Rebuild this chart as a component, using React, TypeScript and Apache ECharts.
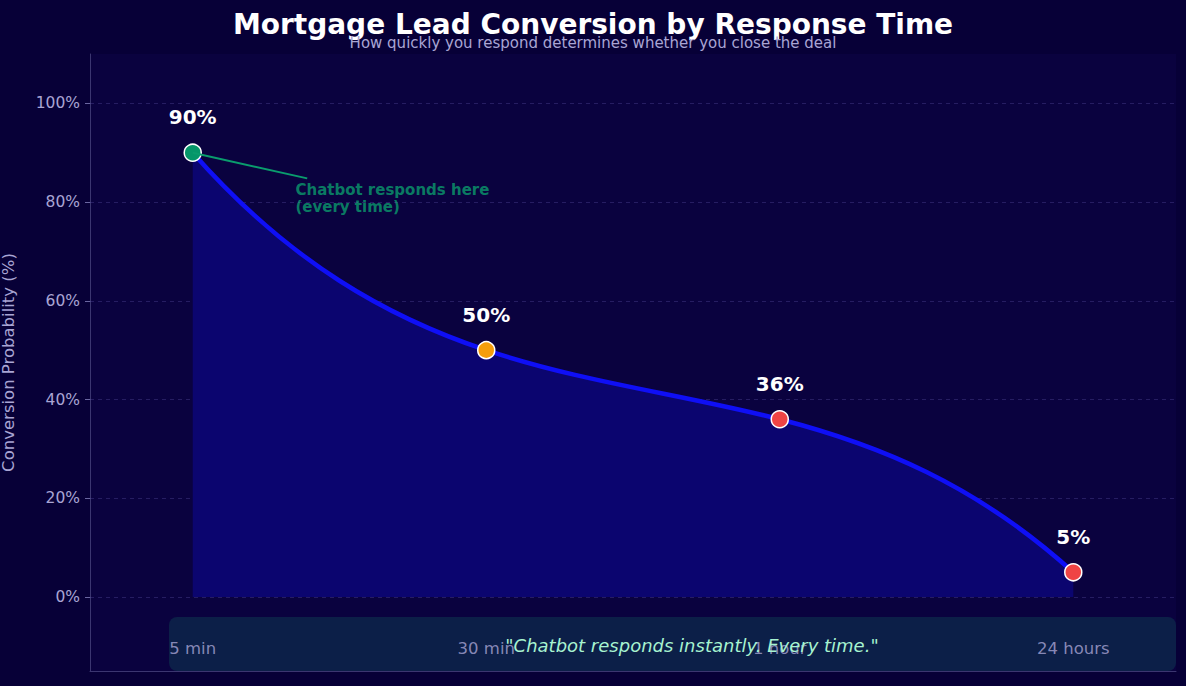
import { useEffect, useRef } from "react";
import * as echarts from "echarts";

const responseTimes = ["5 min", "30 min", "1 hour", "24 hours"];
const conversionRates = [90, 50, 36, 5];
const markerColors = ["#059669", "#f59e0b", "#ef4444", "#ef4444"];
const yTicks = [0, 20, 40, 60, 80, 100];
const annotationText = "Chatbot responds here\n(every time)";
const annotationAt = [0.35, 80.7];
const annotationLine = [
  [0, 90],
  [0.39, 84.8]
];
const quoteText = '"Chatbot responds instantly. Every time."';
const xLabelLevel = -10.5;

const FONT = "DejaVu Sans";
const MUTED = "#a9a5d4";

// slope of the interpolating cubic at each knot (Newton form), used for Bezier handles
function knotSlopes(ys: number[]): number[] {
  const n = ys.length;
  const coef = [...ys];
  for (let j = 1; j < n; j++) {
    for (let i = n - 1; i >= j; i--) {
      coef[i] = (coef[i] - coef[i - 1]) / j;
    }
  }
  const slopes: number[] = [];
  for (let k = 0; k < n; k++) {
    const x = k;
    let p = coef[n - 1];
    let dp = 0;
    for (let i = n - 2; i >= 0; i--) {
      dp = dp * (x - i) + p;
      p = p * (x - i) + coef[i];
    }
    slopes.push(dp);
  }
  return slopes;
}

export default function App() {
  const ref = useRef<HTMLDivElement | null>(null);

  useEffect(() => {
    document.body.style.margin = "0";
    if (!ref.current) {
      return;
    }
    const chart = echarts.init(ref.current, null, { renderer: "svg" });
    const slopes = knotSlopes(conversionRates);

    const renderCurve = (params: any, api: any) => {
      if (params.dataIndex !== 0) {
        return null;
      }
      const pt = (x: number, y: number) => api.coord([x, y]) as number[];
      const n = conversionRates.length;
      const start = pt(0, conversionRates[0]);
      let curve = `M ${start[0]} ${start[1]}`;
      for (let i = 0; i < n - 1; i++) {
        const c1 = pt(i + 1 / 3, conversionRates[i] + slopes[i] / 3);
        const c2 = pt(i + 2 / 3, conversionRates[i + 1] - slopes[i + 1] / 3);
        const end = pt(i + 1, conversionRates[i + 1]);
        curve += ` C ${c1[0]} ${c1[1]} ${c2[0]} ${c2[1]} ${end[0]} ${end[1]}`;
      }
      const baseEnd = pt(n - 1, 0);
      const baseStart = pt(0, 0);
      const area = `${curve} L ${baseEnd[0]} ${baseEnd[1]} L ${baseStart[0]} ${baseStart[1]} Z`;
      return {
        type: "group",
        children: [
          {
            type: "path",
            shape: { pathData: area },
            style: { fill: "#0b056f", stroke: null }
          },
          {
            type: "path",
            shape: { pathData: curve },
            style: { fill: null, stroke: "#0f0ff5", lineWidth: 4.5 }
          }
        ]
      };
    };

    chart.setOption({
      animation: false,
      backgroundColor: "#070037",
      textStyle: { fontFamily: FONT },
      title: {
        text: "Mortgage Lead Conversion by Response Time",
        subtext: "How quickly you respond determines whether you close the deal",
        left: "center",
        top: 5,
        itemGap: -3,
        textStyle: { color: "#ffffff", fontSize: 28, fontWeight: "bold", fontFamily: FONT },
        subtextStyle: { color: MUTED, fontSize: 15, fontFamily: FONT }
      },
      grid: {
        left: 90,
        right: 10,
        top: 54,
        bottom: 15,
        outerBoundsMode: "none",
        containLabel: false,
        show: true,
        backgroundColor: "#0a023f",
        borderWidth: 0
      },
      graphic: [
        {
          type: "rect",
          z: 0,
          shape: { x: 169, y: 617, width: 1007, height: 54, r: 8 },
          style: { fill: "#0c1f48" }
        },
        {
          type: "text",
          z: 10,
          x: 692,
          y: 645,
          style: {
            text: quoteText,
            fill: "#a7f3d0",
            font: `italic 18px "${FONT}"`,
            align: "center",
            verticalAlign: "middle"
          }
        }
      ],
      xAxis: {
        type: "value",
        min: -0.35,
        max: 3.35,
        axisLine: { show: true, onZero: false, lineStyle: { color: "#3b3670", width: 1 } },
        axisTick: { show: false },
        axisLabel: { show: false },
        splitLine: { show: false }
      },
      yAxis: {
        type: "value",
        min: -15,
        max: 110,
        name: "Conversion Probability (%)",
        nameLocation: "middle",
        nameGap: 73,
        nameTextStyle: { color: MUTED, fontSize: 16.5, fontFamily: FONT },
        axisLine: { show: true, onZero: false, lineStyle: { color: "#3b3670", width: 1 } },
        axisTick: { show: true, length: 5, customValues: yTicks, lineStyle: { color: "#6a66a0" } },
        axisLabel: {
          customValues: yTicks,
          margin: 10,
          color: MUTED,
          fontSize: 15.5,
          fontFamily: FONT,
          formatter: (v: number) => `${v}%`
        },
        splitLine: { show: false }
      },
      series: [
        {
          name: "annotation",
          type: "scatter",
          z: 1,
          silent: true,
          symbolSize: 0,
          data: [annotationAt],
          label: {
            show: true,
            position: "right",
            distance: 0,
            formatter: () => annotationText,
            color: "#0a9c6d",
            fontSize: 15,
            fontWeight: "bold",
            fontFamily: FONT,
            lineHeight: 17,
            align: "left"
          },
          markLine: {
            silent: true,
            symbol: "none",
            label: { show: false },
            lineStyle: { color: "#0a9c6d", width: 2, type: "solid" },
            data: [
              [
                { coord: annotationLine[0] },
                { coord: annotationLine[1] }
              ]
            ]
          }
        },
        {
          name: "curve",
          type: "custom",
          z: 2,
          silent: true,
          renderItem: renderCurve,
          data: conversionRates.map((v, i) => [i, v])
        },
        {
          name: "Conversion",
          type: "scatter",
          z: 3,
          symbol: "circle",
          symbolSize: 17,
          data: conversionRates.map((v, i) => ({
            value: [i, v],
            itemStyle: { color: markerColors[i] }
          })),
          itemStyle: { borderColor: "#ffffff", borderWidth: 1.5, opacity: 1 },
          label: {
            show: true,
            position: "top",
            distance: 16,
            formatter: (p: { value: number[] }) => `${p.value[1]}%`,
            color: "#ffffff",
            fontSize: 20,
            fontWeight: "bold",
            fontFamily: FONT
          },
          markLine: {
            silent: true,
            symbol: "none",
            z: 2,
            label: { show: false },
            lineStyle: { color: "rgba(110,100,190,0.28)", width: 1, type: [4, 4] },
            data: yTicks.map((t) => ({ yAxis: t }))
          }
        },
        {
          name: "ticks",
          type: "scatter",
          z: 5,
          silent: true,
          symbolSize: 0,
          data: responseTimes.map((_, i) => [i, xLabelLevel]),
          label: {
            show: true,
            position: "inside",
            formatter: (p: { dataIndex: number }) => responseTimes[p.dataIndex],
            color: MUTED,
            fontSize: 16.5,
            fontFamily: FONT
          }
        }
      ]
    });

    return () => {
      chart.dispose();
    };
  }, []);

  return <div ref={ref} style={{ width: 1186, height: 686 }} />;
}
